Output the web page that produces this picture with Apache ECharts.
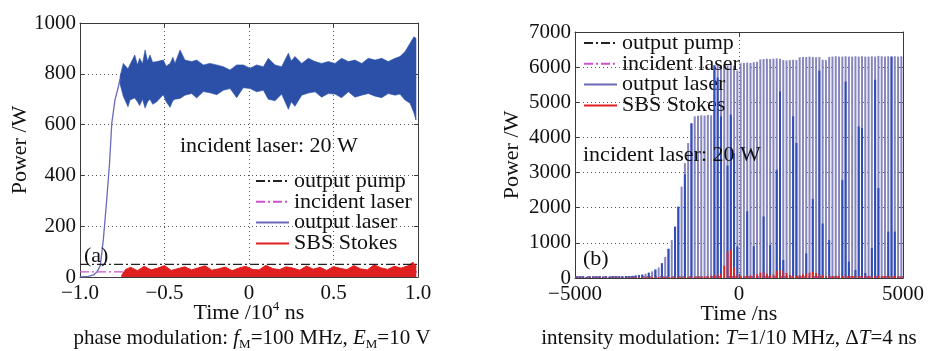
<!DOCTYPE html>
<html>
<head>
<meta charset="utf-8">
<script src="https://cdn.jsdelivr.net/npm/echarts@6/dist/echarts.min.js"></script>
<style>
html, body { margin: 0; background: #fff; }
#chart { width: 930px; height: 351px; }
</style>
</head>
<body>
<div id="chart"></div>
<script>
// ---- panel (a): phase modulation, time in 10^4 ns ----
const riseT = [-1.0, -0.95, -0.92, -0.90, -0.88, -0.862, -0.842, -0.825, -0.812, -0.793, -0.773, -0.763]
const riseP = [0, 2, 8, 20, 45, 146, 303, 450, 605, 697, 749, 780]

// envelope of the dense output-laser band
const bandT = [-0.763, -0.744, -0.716, -0.704, -0.676, -0.660, -0.647, -0.630, -0.615, -0.600,
	-0.586, -0.570, -0.546, -0.507, -0.490, -0.467, -0.450, -0.438, -0.408, -0.379,
	-0.339, -0.310, -0.270, -0.231, -0.191, -0.152, -0.112, -0.073, -0.034, 0.006,
	0.045, 0.085, 0.114, 0.154, 0.193, 0.233, 0.250, 0.272, 0.312, 0.351,
	0.391, 0.430, 0.469, 0.509, 0.548, 0.588, 0.627, 0.667, 0.706, 0.746,
	0.785, 0.824, 0.864, 0.893, 0.923, 0.953, 0.976, 0.988]
const bandHi = [789, 841, 820, 837, 874, 835, 861, 840, 894, 850,
	874, 845, 848, 854, 830, 841, 865, 841, 894, 854,
	848, 854, 835, 841, 835, 828, 815, 835, 835, 822,
	835, 828, 861, 835, 828, 881, 850, 868, 841, 861,
	848, 841, 848, 841, 861, 848, 854, 841, 861, 854,
	861, 848, 861, 868, 887, 920, 946, 940]
const bandLo = [760, 712, 670, 697, 705, 690, 675, 700, 665, 690,
	700, 680, 690, 718, 690, 668, 695, 700, 703, 716,
	722, 705, 730, 725, 718, 735, 742, 706, 745, 742,
	729, 735, 700, 694, 720, 660, 690, 672, 716, 724,
	729, 708, 722, 720, 706, 729, 708, 716, 722, 712,
	706, 722, 716, 720, 697, 684, 646, 618]

const stokesAT = [-0.755, -0.73, -0.70, -0.66, -0.62, -0.58, -0.54, -0.50, -0.46, -0.42,
	-0.38, -0.34, -0.30, -0.26, -0.22, -0.18, -0.14, -0.10, -0.06, -0.02,
	0.02, 0.06, 0.10, 0.14, 0.18, 0.22, 0.26, 0.30, 0.34, 0.38,
	0.42, 0.46, 0.50, 0.54, 0.58, 0.62, 0.66, 0.70, 0.74, 0.78,
	0.82, 0.86, 0.90, 0.94, 0.97, 0.99]
const stokesAP = [5, 30, 38, 25, 42, 28, 35, 45, 26, 33,
	40, 28, 36, 44, 27, 32, 39, 25, 35, 42,
	30, 28, 46, 33, 29, 40, 35, 27, 43, 31,
	38, 26, 41, 34, 29, 45, 32, 28, 48, 36,
	30, 42, 35, 44, 58, 40]

const pumpA = [[-1, 50], [1, 50]]
const incidentA = [[-1, 20], [1, 20]]

// ---- panel (b): intensity modulation, one pulse per 100 ns ----
const pulseT = [-4950, -4850, -4750, -4650, -4550, -4450, -4350, -4250, -4150, -4050,
	-3950, -3850, -3750, -3650, -3550, -3450, -3350, -3250, -3150, -3050,
	-2950, -2850, -2750, -2650, -2550, -2450, -2350, -2250, -2150, -2050,
	-1950, -1850, -1750, -1650, -1550, -1450, -1350, -1250, -1150, -1050,
	-950, -850, -750, -650, -550, -450, -350, -250, -150, -50,
	50, 150, 250, 350, 450, 550, 650, 750, 850, 950,
	1050, 1150, 1250, 1350, 1450, 1550, 1650, 1750, 1850, 1950,
	2050, 2150, 2250, 2350, 2450, 2550, 2650, 2750, 2850, 2950,
	3050, 3150, 3250, 3350, 3450, 3550, 3650, 3750, 3850, 3950,
	4050, 4150, 4250, 4350, 4450, 4550, 4650, 4750, 4850, 4950]
const peakP = [40, 35, 45, 30, 50, 40, 35, 45, 40, 50,
	35, 45, 40, 50, 45, 55, 50, 60, 70, 80,
	95, 120, 150, 190, 240, 300, 420, 600, 830, 1080,
	1460, 2030, 2600, 3270, 3840, 4400, 4600, 4620, 4630, 4620,
	4640, 4630, 6050, 6060, 6040, 6070, 6050, 6060, 6040, 5900,
	6110, 6120, 6130, 6120, 6140, 6150, 6220, 6230, 6240, 6230,
	6240, 6250, 6240, 6200, 6190, 6200, 6210, 6200, 6280, 6290,
	6290, 6300, 6290, 6280, 6290, 6210, 6200, 6290, 6300, 6310,
	6300, 6300, 6310, 6300, 6300, 6310, 6300, 6310, 6300, 6300,
	6310, 6300, 6320, 6310, 6300, 6310, 6300, 6310, 6300, 6310]
// brighter blue part of some pulses
const innerP = [40, 35, 45, 30, 50, 40, 35, 45, 40, 50,
	35, 45, 40, 50, 45, 55, 50, 60, 70, 80,
	95, 0, 150, 0, 240, 0, 420, 0, 830, 0,
	1460, 2030, 0, 2950, 0, 4400, 0, 0, 0, 0,
	0, 0, 6050, 5700, 4600, 0, 3200, 4650, 3550, 900,
	0, 0, 1900, 0, 900, 0, 0, 1750, 0, 940,
	0, 3080, 5310, 510, 0, 0, 4600, 3840, 0, 0,
	700, 0, 2250, 0, 5900, 1550, 0, 1080, 0, 0,
	0, 2790, 5590, 465, 0, 230, 4310, 4270, 145, 0,
	850, 5640, 2560, 0, 0, 1320, 6300, 1320, 0, 0]
const stokesBP = [10, 12, 8, 10, 14, 10, 9, 12, 10, 11,
	12, 10, 14, 12, 15, 14, 16, 18, 20, 22,
	20, 25, 22, 28, 25, 30, 26, 30, 28, 32,
	30, 35, 30, 38, 34, 40, 36, 42, 40, 45,
	50, 60, 80, 100, 120, 350, 750, 800, 300, 100,
	60, 50, 80, 70, 90, 110, 150, 180, 120, 80,
	100, 200, 230, 200, 140, 90, 60, 70, 80, 110,
	130, 150, 180, 140, 100, 80, 60, 70, 55, 60,
	65, 50, 70, 60, 55, 65, 50, 60, 70, 55,
	60, 50, 65, 55, 60, 50, 55, 60, 50, 45]
const pumpB = [[-5000, 30], [5000, 30]]
const incidentB = [[-5000, 20], [5000, 20]]

const legendNames = ['output pump', 'incident laser', 'output laser', 'SBS Stokes']

const FONT = "'Liberation Serif', 'Times New Roman', serif"
const INK = '#111'
const FRAME = '#3a3a3a'
const DASHDOT = [9, 3, 2, 3]

const minus = s => s.replace('-', '\u2212')

function xAxes(grid, min, max, interval, fmt, name) {
	return [{
		gridIndex: grid, type: 'value', min, max, interval, position: 'bottom',
		axisLine: { show: true, onZero: false, lineStyle: { color: FRAME, width: 1 } },
		axisTick: { show: true, inside: true, length: 4, lineStyle: { color: FRAME } },
		axisLabel: { formatter: fmt, fontFamily: FONT, fontSize: 21, color: INK, margin: 6 },
		splitLine: { show: true, lineStyle: { type: [1, 3], color: '#555', width: 1 } },
		name, nameLocation: 'middle', nameGap: 23, nameMoveOverlap: false,
		nameTextStyle: {
			fontFamily: FONT, fontSize: 22, color: INK, lineHeight: 26,
			rich: { sup: { fontFamily: FONT, fontSize: 13, color: INK, verticalAlign: 'top', lineHeight: 26 } }
		}
	}, {
		gridIndex: grid, type: 'value', min, max, interval, position: 'top',
		axisLine: { show: true, onZero: false, lineStyle: { color: FRAME, width: 1 } },
		axisTick: { show: true, inside: true, length: 4, lineStyle: { color: FRAME } },
		axisLabel: { show: false }, splitLine: { show: false }
	}]
}

function yAxes(grid, max, interval, nameGap) {
	return [{
		gridIndex: grid, type: 'value', min: 0, max, interval, position: 'left',
		axisLine: { show: true, onZero: false, lineStyle: { color: FRAME, width: 1 } },
		axisTick: { show: true, inside: true, length: 4, lineStyle: { color: FRAME } },
		axisLabel: { formatter: v => String(v), fontFamily: FONT, fontSize: 21, color: INK, margin: 4 },
		splitLine: { show: true, lineStyle: { type: [1, 3], color: '#555', width: 1 } },
		name: 'Power /W', nameLocation: 'middle', nameGap, nameMoveOverlap: false,
		nameTextStyle: { fontFamily: FONT, fontSize: 22, color: INK }
	}, {
		gridIndex: grid, type: 'value', min: 0, max, interval, position: 'right',
		axisLine: { show: true, onZero: false, lineStyle: { color: FRAME, width: 1 } },
		axisTick: { show: true, inside: true, length: 4, lineStyle: { color: FRAME } },
		axisLabel: { show: false }, splitLine: { show: false }
	}]
}

function legendAt(left, top) {
	return {
		data: legendNames, left, top, orient: 'vertical', padding: 0,
		itemGap: -1.2, itemWidth: 33, itemHeight: 12, selectedMode: false,
		itemStyle: { color: 'transparent', borderColor: 'transparent', borderWidth: 0 },
		textStyle: { fontFamily: FONT, fontSize: 22, color: INK, lineHeight: 20 }
	}
}

// vertical line per pulse, from 0 up to the value
function pulseRenderer(color, width) {
	return (params, api) => {
		const v = api.value(1)
		if (!v) return null
		const p0 = api.coord([api.value(0), 0])
		const p1 = api.coord([api.value(0), v])
		return {
			type: 'line',
			shape: { x1: p0[0], y1: p0[1], x2: p1[0], y2: p1[1] },
			style: { stroke: color, lineWidth: width }
		}
	}
}

const textRich = {
	n: { fontFamily: FONT, fontSize: 21, fill: INK, lineHeight: 26 },
	i: { fontFamily: FONT, fontSize: 21, fontStyle: 'italic', fill: INK, lineHeight: 26 },
	sub: { fontFamily: FONT, fontSize: 13, fill: INK, verticalAlign: 'bottom', lineHeight: 13 }
}

const chart = echarts.init(document.getElementById('chart'), null, { renderer: 'canvas' })

const option = {
	animation: false,
	backgroundColor: '#fff',
	grid: [
		{ left: 80, top: 23, width: 338, height: 254, outerBoundsMode: 'none' },
		{ left: 575, top: 32, width: 328, height: 246, outerBoundsMode: 'none' }
	],
	xAxis: [
		...xAxes(0, -1, 1, 0.5, v => v === 0 ? '0' : minus(v.toFixed(1)), 'Time /10{sup|4} ns'),
		...xAxes(1, -5000, 5000, 5000, v => minus(String(v)), 'Time /ns')
	],
	yAxis: [
		...yAxes(0, 1000, 200, 49),
		...yAxes(1, 7000, 1000, 52)
	],
	legend: [legendAt(255, 170), legendAt(583, 32)],
	series: [
		{
			name: 'output laser', type: 'line', xAxisIndex: 0, yAxisIndex: 0,
			data: riseT.map((t, i) => [t, riseP[i]]),
			symbol: 'none', lineStyle: { color: '#6a6ab8', width: 1.3 }, z: 3
		},
		{
			name: 'output laser', type: 'custom', xAxisIndex: 0, yAxisIndex: 0,
			data: bandT.map((t, i) => [t, bandHi[i]]),
			renderItem: (params, api) => {
				if (params.dataIndex !== 0) return null
				const pts = bandT.map((t, i) => api.coord([t, bandHi[i]]))
				for (let i = bandT.length - 1; i >= 0; i--) pts.push(api.coord([bandT[i], bandLo[i]]))
				return { type: 'polygon', shape: { points: pts }, style: { fill: '#2c50a8', stroke: '#2c50a8', lineWidth: 0.6 } }
			},
			z: 3
		},
		{
			name: 'incident laser', type: 'line', xAxisIndex: 0, yAxisIndex: 0, data: incidentA,
			symbol: 'none', lineStyle: { color: '#d050d0', width: 1.3, type: DASHDOT }, z: 3
		},
		{
			name: 'SBS Stokes', type: 'line', xAxisIndex: 0, yAxisIndex: 0,
			data: stokesAT.map((t, i) => [t, stokesAP[i]]),
			symbol: 'none', lineStyle: { color: '#e02020', width: 1 },
			areaStyle: { color: '#e02020', opacity: 1 }, z: 4
		},
		{
			name: 'output pump', type: 'line', xAxisIndex: 0, yAxisIndex: 0, data: pumpA,
			symbol: 'none', lineStyle: { color: '#222', width: 1.2, type: DASHDOT }, z: 5
		},

		{
			name: 'output pump', type: 'line', xAxisIndex: 2, yAxisIndex: 2, data: pumpB,
			symbol: 'none', lineStyle: { color: '#222', width: 1, type: DASHDOT }, z: 2
		},
		{
			name: 'incident laser', type: 'line', xAxisIndex: 2, yAxisIndex: 2, data: incidentB,
			symbol: 'none', lineStyle: { color: '#d050d0', width: 1, type: DASHDOT }, z: 2
		},
		{
			name: 'output laser', type: 'custom', xAxisIndex: 2, yAxisIndex: 2,
			data: pulseT.map((t, i) => [t, peakP[i]]),
			renderItem: pulseRenderer('#8686bc', 2), z: 3
		},
		{
			name: 'output laser', type: 'custom', xAxisIndex: 2, yAxisIndex: 2,
			data: pulseT.map((t, i) => [t, innerP[i]]),
			renderItem: pulseRenderer('#2f4cb8', 2), z: 4
		},
		{
			name: 'SBS Stokes', type: 'custom', xAxisIndex: 2, yAxisIndex: 2,
			data: pulseT.map((t, i) => [t, stokesBP[i]]),
			renderItem: pulseRenderer('#d82828', 1.8), z: 5
		}
	],
	graphic: [
		{ type: 'text', x: 180, y: 146, z: 100, style: { text: 'incident laser: 20 W', font: '22px ' + FONT, fill: INK, textVerticalAlign: 'middle' } },
		{ type: 'text', x: 84, y: 256, z: 100, style: { text: '(a)', font: '22px ' + FONT, fill: INK, textVerticalAlign: 'middle' } },
		{ type: 'text', x: 583, y: 155, z: 100, style: { text: 'incident laser: 20 W', font: '22px ' + FONT, fill: INK, textVerticalAlign: 'middle' } },
		{ type: 'text', x: 583, y: 259, z: 100, style: { text: '(b)', font: '22px ' + FONT, fill: INK, textVerticalAlign: 'middle' } },
		{
			type: 'text', x: 252, y: 338, z: 100,
			style: {
				text: '{n|phase modulation: }{i|f}{sub|M}{n|=100 MHz, }{i|E}{sub|M}{n|=10 V}',
				rich: textRich, textAlign: 'center', textVerticalAlign: 'middle'
			}
		},
		{
			type: 'text', x: 729, y: 338, z: 100,
			style: {
				text: '{n|intensity modulation: }{i|T}{n|=1/10 MHz, \u0394}{i|T}{n|=4 ns}',
				rich: textRich, textAlign: 'center', textVerticalAlign: 'middle'
			}
		}
	]
}

chart.setOption(option)
</script>
</body>
</html>
